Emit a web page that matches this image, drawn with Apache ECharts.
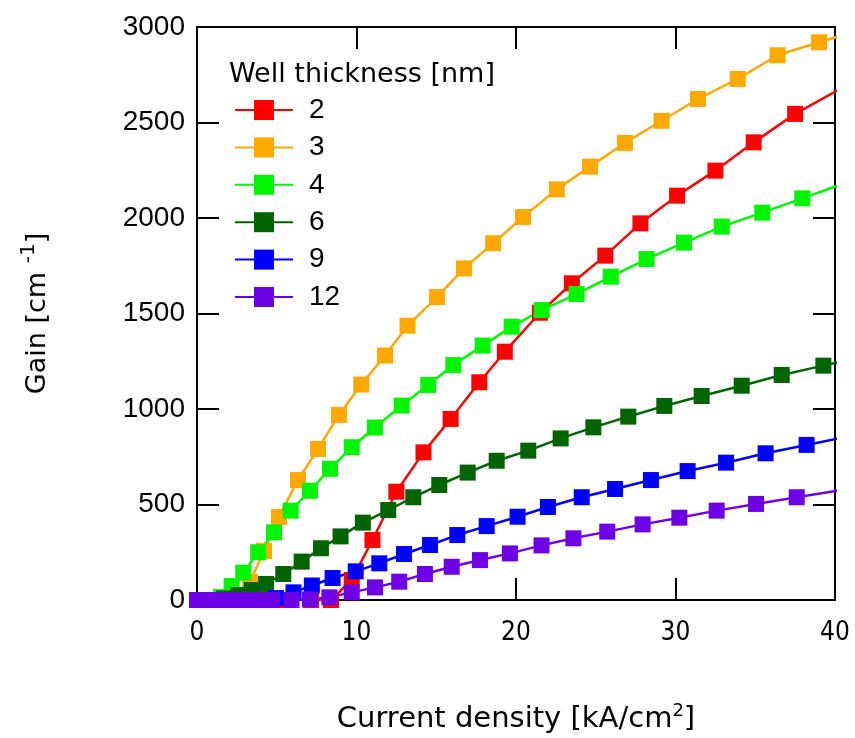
<!DOCTYPE html>
<html><head><meta charset="utf-8">
<script src="https://cdn.jsdelivr.net/npm/echarts@6/dist/echarts.min.js"></script>
<style>html,body{margin:0;padding:0;background:#fff}#c{width:855px;height:738px}</style>
</head><body><div id="c"></div>
<script>
// ---- data ----
const thicknessNames = ['2', '3', '4', '6', '9', '12'];
const xTicks = [0, 10, 20, 30, 40];
const yTicks = [0, 500, 1000, 1500, 2000, 2500, 3000];

const current_2nm = [0, 1.2, 2.4, 3.5, 4.6, 5.7, 7.15, 8.4, 9.7, 11.0, 12.5, 14.2, 15.9, 17.7, 19.3, 21.5, 23.5, 25.6, 27.8, 30.1, 32.5, 34.9, 37.5, 40.2];
const gain_2nm    = [0, 0, 0, 0, 0, 0, 0, 0, 105, 314, 567, 773, 948, 1140, 1300, 1504, 1658, 1803, 1972, 2117, 2248, 2396, 2545, 2670];

const current_3nm = [0, 0.9, 1.8, 2.6, 3.32, 4.2, 5.14, 6.33, 7.59, 8.9, 10.3, 11.79, 13.2, 15.05, 16.74, 18.57, 20.44, 22.56, 24.64, 26.83, 29.13, 31.41, 33.9, 36.4, 39.0, 41.6];
const gain_3nm    = [0, 0, 0, 10, 94, 257, 435, 628, 791, 969, 1128, 1280, 1436, 1586, 1736, 1868, 2005, 2150, 2269, 2393, 2509, 2623, 2728, 2852, 2920, 2985];

const current_4nm = [0, 0.8, 1.5, 2.17, 2.9, 3.84, 4.83, 5.87, 7.08, 8.34, 9.7, 11.15, 12.83, 14.5, 16.07, 17.91, 19.73, 21.61, 23.8, 25.94, 28.19, 30.53, 32.9, 35.44, 37.95, 40.5];
const gain_4nm    = [0, 0, 15, 73, 143, 250, 354, 468, 572, 687, 800, 903, 1018, 1126, 1230, 1332, 1431, 1518, 1602, 1693, 1785, 1871, 1955, 2028, 2103, 2179];

const current_6nm = [0, 0.9, 1.7, 2.57, 3.43, 4.33, 5.41, 6.56, 7.77, 9.0, 10.4, 11.99, 13.56, 15.19, 16.97, 18.79, 20.77, 22.8, 24.85, 27.04, 29.3, 31.64, 34.15, 36.66, 39.27, 41.8];
const gain_6nm    = [0, 0, 8, 26, 52, 84, 136, 201, 271, 333, 405, 471, 538, 602, 667, 729, 782, 846, 904, 960, 1016, 1068, 1122, 1178, 1227, 1275];

const current_9nm = [0, 1.0, 2.0, 3.0, 4.0, 4.95, 6.05, 7.2, 8.5, 9.95, 11.43, 12.98, 14.61, 16.32, 18.16, 20.1, 22.0, 24.12, 26.21, 28.46, 30.76, 33.17, 35.65, 38.22, 40.8];
const gain_9nm    = [0, 0, 0, 0, 0, 10, 40, 76, 115, 150, 192, 241, 288, 340, 387, 436, 487, 538, 581, 628, 675, 719, 768, 812, 856];

const current_12nm = [0, 0.5, 1.1, 1.7, 2.3, 2.9, 3.5, 4.1, 4.7, 5.93, 7.08, 8.3, 9.7, 11.16, 12.68, 14.29, 15.97, 17.74, 19.62, 21.6, 23.6, 25.72, 27.94, 30.24, 32.58, 35.05, 37.6, 40.2];
const gain_12nm    = [0, 0, 0, 0, 0, 0, 0, 0, 0, 0, 3, 14, 40, 66, 96, 136, 174, 209, 244, 286, 323, 358, 396, 431, 468, 503, 538, 573];

const seriesColors = ['#ff0000', '#ffa800', '#00f500', '#006400', '#0000ff', '#6e00e6'];
const currents = [current_2nm, current_3nm, current_4nm, current_6nm, current_9nm, current_12nm];
const gains = [gain_2nm, gain_3nm, gain_4nm, gain_6nm, gain_9nm, gain_12nm];

// ---- chart ----
const chart = echarts.init(document.getElementById('c'), null, {renderer: 'canvas'});
const axisLineStyle = {color: '#000', width: 2};
const tickStyle = {show: true, inside: true, length: 22, lineStyle: {color: '#000', width: 2}};

const series = thicknessNames.map((name, i) => ({
  name: name,
  type: 'line',
  data: currents[i].map((x, j) => [x, gains[i][j]]),
  symbol: 'rect',
  symbolSize: 16,
  clip: true,
  color: seriesColors[i],
  itemStyle: {color: seriesColors[i]},
  lineStyle: {color: seriesColors[i], width: 2.5},
  emphasis: {disabled: true},
  animation: false
}));

chart.setOption({
  animation: false,
  backgroundColor: '#fff',
  title: {
    text: 'Well thickness [nm]',
    left: 229, top: 61, padding: 0,
    textStyle: {fontFamily: 'DejaVu Sans', fontSize: 27, fontWeight: 'normal', color: '#000'}
  },
  legend: {
    orient: 'vertical',
    left: 234, top: 96,
    itemWidth: 58, itemHeight: 25, itemGap: 9.4,
    padding: 0,
    data: thicknessNames,
    textStyle: {fontFamily: 'Liberation Sans', fontSize: 28, color: '#000', padding: [0, 0, 0, 11]}
  },
  grid: {left: 197, right: 20, top: 27, bottom: 138, containLabel: false, outerBoundsMode: 'none'},
  xAxis: [{
    type: 'value', min: xTicks[0], max: xTicks[xTicks.length - 1], interval: xTicks[1] - xTicks[0],
    position: 'bottom',
    axisLine: {show: true, onZero: false, lineStyle: axisLineStyle},
    axisTick: tickStyle,
    splitLine: {show: false},
    axisLabel: {fontFamily: '"DejaVu Sans Condensed", "Liberation Sans Narrow", "Liberation Sans", sans-serif',
      fontSize: 26, color: '#000', margin: 20, formatter: v => String(v)},
    name: 'Current density [kA/cm{sup|2}]',
    nameLocation: 'middle', nameGap: 102,
    nameTextStyle: {fontFamily: 'DejaVu Sans', fontSize: 29, color: '#000',
      rich: {sup: {fontFamily: 'DejaVu Sans', fontSize: 18, color: '#000', padding: [0, 0, 16, 0]}}}
  }, {
    type: 'value', min: xTicks[0], max: xTicks[xTicks.length - 1], interval: xTicks[1] - xTicks[0],
    position: 'top',
    axisLine: {show: true, onZero: false, lineStyle: axisLineStyle},
    axisTick: tickStyle,
    splitLine: {show: false},
    axisLabel: {show: false}
  }],
  yAxis: [{
    type: 'value', min: yTicks[0], max: yTicks[yTicks.length - 1], interval: yTicks[1] - yTicks[0],
    position: 'left',
    axisLine: {show: true, onZero: false, lineStyle: axisLineStyle},
    axisTick: tickStyle,
    splitLine: {show: false},
    axisLabel: {fontFamily: 'Liberation Sans', fontSize: 28, color: '#000', margin: 12, formatter: v => String(v)},
    name: 'Gain [cm {sup|-1}]',
    nameLocation: 'middle', nameGap: 140, nameRotate: 90,
    nameTextStyle: {fontFamily: 'DejaVu Sans', fontSize: 27, color: '#000',
      rich: {sup: {fontFamily: 'DejaVu Sans', fontSize: 20, color: '#000', padding: [0, 0, 18, 0]}}}
  }, {
    type: 'value', min: yTicks[0], max: yTicks[yTicks.length - 1], interval: yTicks[1] - yTicks[0],
    position: 'right',
    axisLine: {show: true, onZero: false, lineStyle: axisLineStyle},
    axisTick: tickStyle,
    splitLine: {show: false},
    axisLabel: {show: false}
  }],
  series: series
});
</script>
</body></html>
